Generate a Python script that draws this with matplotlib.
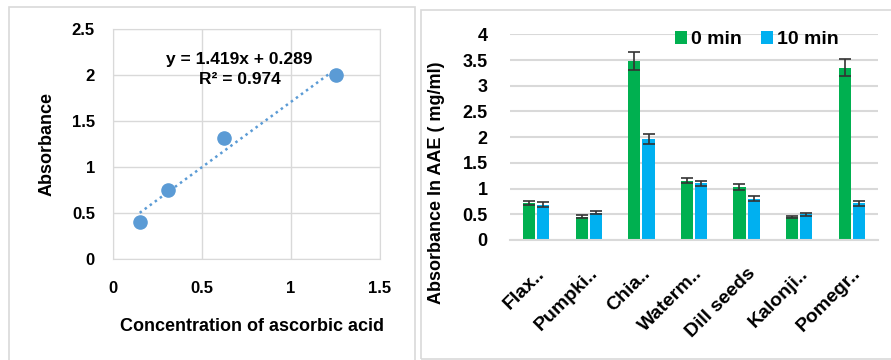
import numpy as np
import matplotlib.pyplot as plt
from matplotlib.patches import Rectangle

plt.rcParams['font.family'] = ['Liberation Sans', 'DejaVu Sans']
plt.rcParams['font.weight'] = 'bold'

# standard curve (ascorbic acid)
conc = [0.15, 0.31, 0.625, 1.25]
absorb = [0.40, 0.75, 1.32, 2.0]
slope = 1.419
intercept = 0.289
r2 = 0.974

# seed extracts
seeds = ['Flax..', 'Pumpki..', 'Chia..', 'Waterm..', 'Dill seeds', 'Kalonji..', 'Pomegr..']
min0 = [0.72, 0.45, 3.48, 1.15, 1.03, 0.44, 3.35]
min0_err = [0.04, 0.03, 0.18, 0.05, 0.05, 0.02, 0.17]
min10 = [0.69, 0.53, 1.96, 1.10, 0.80, 0.50, 0.71]
min10_err = [0.04, 0.03, 0.10, 0.05, 0.05, 0.03, 0.04]

green = '#00B050'
blue = '#00B0F0'
grid_c = '#D9D9D9'

fig = plt.figure(figsize=(8.91, 3.6), dpi=100)

# panel frames
W, H = 891, 360
fig.patches.append(Rectangle((9 / W, -0.05), (415 - 9) / W, 1.05 - 7 / H,
                             transform=fig.transFigure, fill=False,
                             edgecolor=grid_c, lw=1.2))
fig.patches.append(Rectangle((421 / W, 1 - 359 / H), 0.6, (359 - 10) / H,
                             transform=fig.transFigure, fill=False,
                             edgecolor=grid_c, lw=1.2))

# left: calibration curve
ax1 = fig.add_axes([113 / W, 1 - 259 / H, 267 / W, 230 / H])
ax1.scatter(conc, absorb, s=90, color='#5B9BD5', zorder=3)
xs = np.array([conc[0], conc[-1]])
ax1.plot(xs, slope * xs + intercept, ls=(0, (1, 1.5)), lw=1.8, color='#5B9BD5', zorder=2)
ax1.set_xlim(0, 1.5)
ax1.set_ylim(0, 2.5)
ax1.set_xticks([0, 0.5, 1, 1.5])
ax1.set_xticklabels(['0', '0.5', '1', '1.5'])
ax1.set_yticks([0, 0.5, 1, 1.5, 2, 2.5])
ax1.set_yticklabels(['0', '0.5', '1', '1.5', '2', '2.5'])
ax1.grid(True, color=grid_c, lw=1)
ax1.set_axisbelow(True)
for s in ax1.spines.values():
    s.set_color(grid_c)
ax1.tick_params(length=0, labelsize=12, colors='black')
ax1.tick_params(axis='x', pad=16)
ax1.tick_params(axis='y', pad=13)
ax1.set_xlabel('Concentration of ascorbic acid', fontsize=13, fontweight='bold')
ax1.xaxis.set_label_coords(0.52, -0.255)
ax1.set_ylabel('Absorbance', fontsize=13, fontweight='bold', labelpad=12)
# trendline equation
ax1.text(0.71, 2.17, f'y = {slope}x + {intercept}', ha='center', va='center',
         fontsize=12.5, fontweight='bold')
ax1.text(0.71, 1.95, f'R² = {r2}', ha='center', va='center',
         fontsize=12.5, fontweight='bold')

# right: antioxidant activity
ax2 = fig.add_axes([510 / W, 1 - 240 / H, 368 / W, (240 - 34.3) / H])
x = np.arange(len(seeds))
bw = 0.23
ekw = dict(ecolor='#333333', capsize=4, elinewidth=1.2, capthick=1.2)
ax2.bar(x - 0.135, min0, bw, yerr=min0_err, color=green, label='0 min', error_kw=ekw)
ax2.bar(x + 0.135, min10, bw, yerr=min10_err, color=blue, label='10 min', error_kw=ekw)
ax2.set_xlim(-0.5, len(seeds) - 0.5)
ax2.set_ylim(0, 4)
ax2.set_yticks(np.arange(0, 4.01, 0.5))
ax2.set_yticklabels(['0', '0.5', '1', '1.5', '2', '2.5', '3', '3.5', '4'])
ax2.yaxis.grid(True, color=grid_c, lw=1.5)
ax2.set_axisbelow(True)
for k in ['left', 'right', 'top']:
    ax2.spines[k].set_visible(False)
ax2.spines['bottom'].set_color(grid_c)
ax2.spines['bottom'].set_linewidth(1.5)
ax2.set_xticks(x)
ax2.set_xticklabels(seeds, rotation=45, ha='right', rotation_mode='anchor')
ax2.tick_params(length=0, labelsize=13, colors='black')
ax2.tick_params(axis='x', labelsize=14, pad=18)
ax2.tick_params(axis='y', pad=16)
ax2.set_ylabel('Absorbance In AAE ( mg/ml)', fontsize=13, fontweight='bold')
ax2.yaxis.set_label_coords(-0.177, 0.277)
ax2.legend(loc='upper right', bbox_to_anchor=(0.93, 1.08), ncol=2, frameon=False,
           fontsize=14, handlelength=0.6, handleheight=0.6, handletextpad=0.2,
           columnspacing=1.0, borderpad=0.2)

fig.savefig('out.png', dpi=100)
